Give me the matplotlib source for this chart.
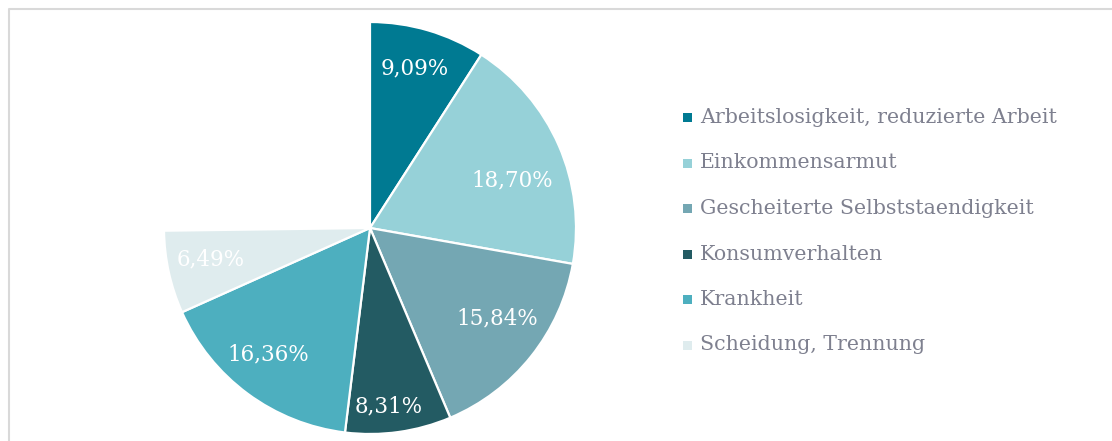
import matplotlib
matplotlib.use("Agg")
import numpy as np
import matplotlib.pyplot as plt
from matplotlib.patches import Rectangle
from matplotlib.lines import Line2D

categories = ["Arbeitslosigkeit, reduzierte Arbeit", "Einkommensarmut",
              "Gescheiterte Selbststaendigkeit", "Konsumverhalten",
              "Krankheit", "Scheidung, Trennung"]
values = [9.09, 18.70, 15.84, 8.31, 16.36, 6.49]
value_labels = ["9,09%", "18,70%", "15,84%", "8,31%", "16,36%", "6,49%"]
colors = ["#007A92", "#96D1D8", "#74A7B3", "#235B63", "#4DAFBF", "#DFECEE"]

# label placement style (radial distance, angular shift in degrees)
label_dist = [0.805, 0.73, 0.76, 0.87, 0.79, 0.79]
label_shift = [0.7, -5.0, 3.2, -2.0, -2.4, -1.2]

W, H = 1112, 441
fig = plt.figure(figsize=(W / 100, H / 100), dpi=100)
fig.patch.set_facecolor("white")

cx, cy, r = 370, 228, 206
ax = fig.add_axes([(cx - r) / W, (H - cy - r) / H, 2 * r / W, 2 * r / H])
fractions = [v / 100 for v in values]
wedges, texts = ax.pie(fractions, colors=colors, startangle=90, counterclock=False,
                       normalize=False, labels=value_labels, labeldistance=0.79,
                       wedgeprops=dict(edgecolor="white", linewidth=1.6),
                       textprops=dict(color="white", fontsize=15.5, family="DejaVu Serif",
                                      ha="center", va="center"))
for w, t, d, s in zip(wedges, texts, label_dist, label_shift):
    mid = np.deg2rad((w.theta1 + w.theta2) / 2 + s)
    t.set_position((d * np.cos(mid), d * np.sin(mid)))
    t.set_ha("center")
    t.set_va("center")

ax.set_xlim(-1, 1)
ax.set_ylim(-1, 1)
ax.set_aspect("equal")
ax.axis("off")

# legend
x_sq, x_txt = 683, 700
y0, dy = 117.5, 45.5
for i, (cat, col) in enumerate(zip(categories, colors)):
    y = y0 + i * dy
    fig.patches.append(Rectangle((x_sq / W, (H - y - 4.5) / H), 9 / W, 9 / H,
                                 transform=fig.transFigure, facecolor=col,
                                 edgecolor="none"))
    fig.text(x_txt / W, (H - y) / H, cat, fontsize=14.8, family="DejaVu Serif",
             color="#7E808F", ha="left", va="center")

# border (top and left)
fig.lines.append(Line2D([8.5 / W, 8.5 / W, 1.0], [0, (H - 8.5) / H, (H - 8.5) / H],
                        transform=fig.transFigure, color="#D9D9D9", linewidth=1.5))

fig.savefig("out.png", dpi=100, facecolor="white")
